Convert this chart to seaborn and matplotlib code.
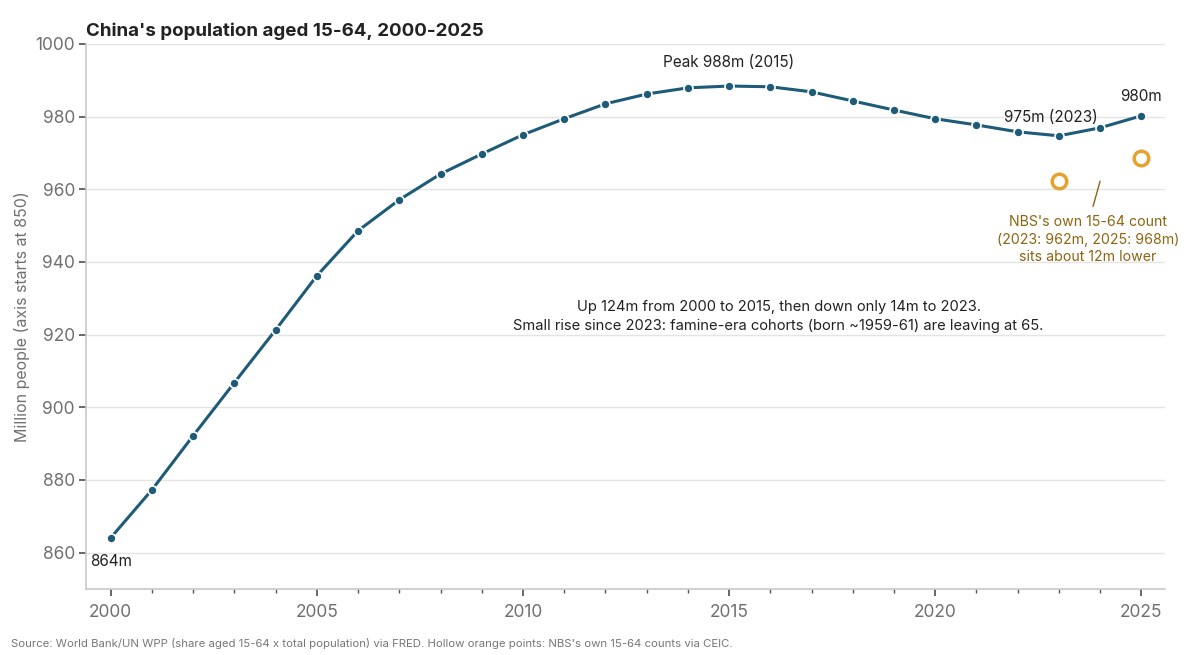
import numpy as np
import pandas as pd
import matplotlib.pyplot as plt
import seaborn as sns
from matplotlib import ticker

years = list(range(2000, 2026))
pop_1564 = [864.1, 877.3, 892.2, 906.8, 921.3, 936.2, 948.6, 957.1, 964.2, 969.7,
            975.0, 979.4, 983.5, 986.2, 987.9, 988.4, 988.2, 986.8, 984.3, 981.8,
            979.4, 977.7, 975.8, 974.7, 976.9, 980.2]
nbs_years = [2023, 2025]
nbs_values = [962.2, 968.5]

line_color = '#1d5b78'
nbs_color = '#e6a22e'
note_color = '#8f6410'

sns.set_theme(style="white")
plt.rcParams['font.family'] = ['Inter', 'DejaVu Sans']

df = pd.DataFrame({'year': years, 'pop': pop_1564})
nbs = pd.DataFrame({'year': nbs_years, 'pop': nbs_values})

fig = plt.figure(figsize=(12, 6.55), dpi=100)
ax = fig.add_axes([0.0717, 0.1008, 0.8993, 0.8322])

sns.lineplot(data=df, x='year', y='pop', ax=ax, color=line_color, linewidth=2.2,
             marker='o', markersize=6.5, markeredgecolor='white', markeredgewidth=1.2)
sns.scatterplot(data=nbs, x='year', y='pop', ax=ax, s=110, facecolor='white',
                edgecolor=nbs_color, linewidth=2.5, zorder=5)

ax.set_xlim(1999.4, 2025.58)
ax.set_ylim(850, 1000)
ax.set_yticks(range(860, 1001, 20))
ax.set_xticks([2000, 2005, 2010, 2015, 2020, 2025])
ax.xaxis.set_minor_locator(ticker.MultipleLocator(1))
ax.grid(axis='y', color='#e4e4e4', linewidth=1)
ax.set_axisbelow(True)
for s in ['top', 'right']:
    ax.spines[s].set_visible(False)
for s in ['left', 'bottom']:
    ax.spines[s].set_color('#c8c8c8')
    ax.spines[s].set_linewidth(1.2)
ax.tick_params(axis='both', which='major', length=5, color='#555555', labelsize=12.5,
               labelcolor='#707070', bottom=True, left=True, pad=6)
ax.tick_params(axis='y', which='major', pad=3)
ax.tick_params(axis='x', which='minor', length=3, color='#555555', bottom=True)
ax.set_xlabel('')
ax.set_ylabel('Million people (axis starts at 850)', fontsize=11.5, color='#707070', labelpad=4)

ax.set_title("China's population aged 15-64, 2000-2025", loc='left', fontsize=13.5,
             fontweight='bold', color='#222222', pad=6)

lbl = dict(fontsize=11, color='#222222', ha='center')
ax.text(2000, 859.5, '864m', va='top', **lbl)
ax.text(2015, 992.7, 'Peak 988m (2015)', va='bottom', **lbl)
ax.text(2022.8, 977.8, '975m (2023)', va='bottom', **lbl)
ax.text(2025, 983.5, '980m', va='bottom', **lbl)
ax.text(2016.2, 925, 'Up 124m from 2000 to 2015, then down only 14m to 2023.\n'
        'Small rise since 2023: famine-era cohorts (born ~1959-61) are leaving at 65.',
        fontsize=10.6, color='#222222', ha='center', va='center', linespacing=1.4)
ax.annotate('', xy=(2024.0, 962.2), xytext=(2023.83, 955.3),
            arrowprops=dict(arrowstyle='-', color=note_color, lw=1, shrinkA=0, shrinkB=0))
ax.text(2023.71, 946.1, "NBS's own 15-64 count\n(2023: 962m, 2025: 968m)\nsits about 12m lower",
        fontsize=10.2, color=note_color, ha='center', va='center', linespacing=1.3)

fig.text(0.009, 0.012, "Source: World Bank/UN WPP (share aged 15-64 x total population) via FRED. "
         "Hollow orange points: NBS's own 15-64 counts via CEIC.", fontsize=8.2, color='#777777')

fig.savefig('out.png', dpi=100)
